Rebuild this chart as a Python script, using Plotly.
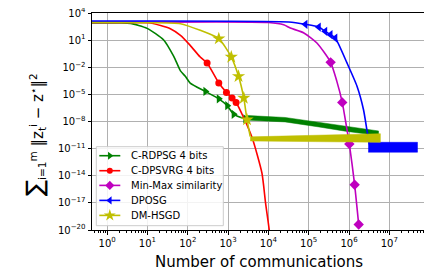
import plotly.graph_objects as go

# ---------------- data ----------------
# C-RDPSG 4 bits (green)
rdpsg_x = [0.4, 2.0, 3.8, 9.8, 25, 45, 66, 87, 115, 275, 590, 955, 1380, 2690]
rdpsg_y = [794, 794, 708, 200, 11.2, 0.16, 4e-3, 1e-3, 1.8e-4, 2.1e-5, 3.2e-6, 5.6e-7, 6.3e-8, 2.0e-8]
rdpsg_mx = [275, 590, 955, 1380, 2690]
rdpsg_my = [2.1e-5, 3.2e-6, 5.6e-7, 6.3e-8, 2.0e-8]
rdpsg_band_x = [2690, 3240, 2.6e4, 1.8e5, 8.1e5, 3.1e6, 5.4e6]
rdpsg_band_hi = [4.0e-8, 4.5e-8, 2.8e-8, 8.0e-9, 2.7e-9, 1.2e-9, 9.0e-10]
rdpsg_band_lo = [1.2e-8, 1.4e-8, 9.0e-9, 2.5e-9, 8.5e-10, 3.8e-10, 2.8e-10]

# C-DPSVRG 4 bits (red)
dpsvrg_x = [0.4, 3.2, 11.7, 37, 66, 115, 204, 302, 589, 912, 1259, 1585, 2510, 3980, 6920, 8510, 1.05e4, 1.1e4]
dpsvrg_y = [891, 891, 794, 182, 33, 2.6, 0.135, 0.0295, 1.8e-4, 1.66e-5, 4e-6, 1.26e-6, 2e-8, 1.5e-10, 2e-14, 1e-17, 1e-20, 1e-21]
dpsvrg_mx = [302, 589, 912, 1259, 1585]
dpsvrg_my = [0.0295, 1.8e-4, 1.66e-5, 4e-6, 1.26e-6]

# Min-Max similarity (magenta)
minmax_x = [0.4, 1e4, 2.4e4, 3.5e4, 7.6e4, 1.6e5, 3.5e5, 5e5, 6.8e5, 8.1e5, 1.02e6, 1.38e6, 1.74e6]
minmax_y = [891, 891, 501, 219, 62, 4.8, 0.035, 2.75e-4, 1.3e-6, 1.6e-8, 3.2e-11, 1e-15, 4e-20]
minmax_mx = [3.5e5, 6.8e5, 1.02e6, 1.38e6, 1.74e6]
minmax_my = [0.035, 1.3e-6, 3.2e-11, 1e-15, 4e-20]

# DPOSG (blue)
dposg_x = [0.4, 3.2e4, 8.3e4, 1.78e5, 2.57e5, 3.47e5, 4.57e5, 8.9e5, 1.58e6, 2.29e6, 2.82e6, 3.2e6]
dposg_y = [1259, 1000, 560, 282, 93, 40, 17, 0.03, 7.9e-5, 2e-7, 7.9e-10, 3e-11]
dposg_mx = [8.3e4, 1.78e5, 2.57e5, 3.47e5, 4.57e5]
dposg_my = [560, 282, 93, 40, 17]
dposg_band_x = [3.0e6, 1e7, 5.0e7]
dposg_band_hi = [5.0e-11, 5.0e-11, 5.0e-11]
dposg_band_lo = [4.0e-12, 4.0e-12, 4.0e-12]

# DM-HSGD (yellow)
dmhsgd_x = [0.4, 10, 66, 204, 589, 1202, 1820, 2455, 2950, 3550]
dmhsgd_y = [891, 851, 661, 120, 14.5, 0.135, 1e-3, 4e-6, 1.6e-8, 2.2e-10]
dmhsgd_mx = [589, 1202, 1820, 2455, 2950]
dmhsgd_my = [14.5, 0.135, 1e-3, 4e-6, 1.6e-8]
dmhsgd_band_x = [3550, 2.1e5, 6.0e6]
dmhsgd_band_hi = [2.0e-10, 3.2e-10, 4.5e-10]
dmhsgd_band_lo = [7.0e-11, 6.0e-11, 5.0e-11]

names = ["C-RDPSG 4 bits", "C-DPSVRG 4 bits", "Min-Max similarity", "DPOSG", "DM-HSGD"]
colors = ["#008000", "#ff0000", "#bf00bf", "#0000ff", "#bfbf00"]
symbols = ["triangle-right", "circle", "diamond", "triangle-left", "star"]
msizes = [8, 7, 8, 8, 10]

x_tickvals = [1, 10, 100, 1e3, 1e4, 1e5, 1e6, 1e7]
x_ticktext = ["10<sup>%d</sup>" % k for k in range(0, 8)]
y_tickvals = [10.0 ** k for k in range(4, -21, -3)]
y_ticktext = ["10<sup>%s</sup>" % (str(k) if k >= 0 else "\u2212" + str(-k)) for k in range(4, -21, -3)]
x_minor = [m * 10.0 ** k for k in range(-1, 8) for m in range(2, 10)]

x_title = "Number of communications"
y_title = ("<span style='font-size:24px'>\u2211</span><sub>i=1</sub><sup>m</sup> "
           "\u2016z<sub>t</sub><sup>i</sup> \u2212 z<sup>\u22c6</sup>\u2016<sup>2</sup>")

series = [
    (rdpsg_x, rdpsg_y, rdpsg_mx, rdpsg_my, (rdpsg_band_x, rdpsg_band_hi, rdpsg_band_lo)),
    (dpsvrg_x, dpsvrg_y, dpsvrg_mx, dpsvrg_my, None),
    (minmax_x, minmax_y, minmax_mx, minmax_my, None),
    (dposg_x, dposg_y, dposg_mx, dposg_my, (dposg_band_x, dposg_band_hi, dposg_band_lo)),
    (dmhsgd_x, dmhsgd_y, dmhsgd_mx, dmhsgd_my, (dmhsgd_band_x, dmhsgd_band_hi, dmhsgd_band_lo)),
]

fig = go.Figure()
for i, (xs, ys, mx, my, band) in enumerate(series):
    c = colors[i]
    fig.add_trace(go.Scatter(x=xs, y=ys, mode="lines", showlegend=False,
                             line=dict(color=c, width=1.6, shape="spline", smoothing=0.6)))
    if band is not None:
        bx, bhi, blo = band
        fig.add_trace(go.Scatter(x=bx + bx[::-1], y=bhi + blo[::-1], mode="lines",
                                 fill="toself", fillcolor=c, showlegend=False,
                                 line=dict(color=c, width=0.5)))
    fig.add_trace(go.Scatter(x=mx, y=my, mode="markers", showlegend=False,
                             marker=dict(symbol=symbols[i], size=msizes[i], color=c,
                                         line=dict(width=0))))

# ---------- legend drawn in an overlay frame measured in pixels of the plot area ----------
PW, PH = 334.0, 217.0
box_x0, box_x1, box_y0, box_y1 = 4.3, 131.3, 133.7, 212.7
item_y = [142.7, 157.7, 172.4, 187.4, 202.4]
fig.add_trace(go.Scatter(x=[box_x0, box_x1, box_x1, box_x0, box_x0],
                         y=[box_y0, box_y0, box_y1, box_y1, box_y0],
                         xaxis="x2", yaxis="y2", mode="lines", fill="toself",
                         fillcolor="rgba(255,255,255,0.85)", line=dict(color="#cccccc", width=1),
                         showlegend=False, hoverinfo="skip"))
for i in range(5):
    fig.add_trace(go.Scatter(x=[7.3, 28.3], y=[item_y[i], item_y[i]], xaxis="x2", yaxis="y2",
                             mode="lines", line=dict(color=colors[i], width=1.6),
                             showlegend=False, hoverinfo="skip"))
    fig.add_trace(go.Scatter(x=[17.8], y=[item_y[i]], xaxis="x2", yaxis="y2", mode="markers",
                             marker=dict(symbol=symbols[i], size=msizes[i] - 1, color=colors[i],
                                         line=dict(width=0)),
                             showlegend=False, hoverinfo="skip"))
    fig.add_annotation(x=36.6, y=item_y[i], xref="x2", yref="y2", text=names[i],
                       showarrow=False, xanchor="left", yanchor="middle",
                       font=dict(family="DejaVu Sans", size=10, color="black"))

# axis titles placed at the reference positions
fig.add_annotation(x=0.5, y=-0.147, xref="paper", yref="paper", text=x_title,
                   showarrow=False, xanchor="center", yanchor="middle",
                   font=dict(family="DejaVu Sans", size=15, color="black"))
fig.add_annotation(x=-0.172, y=0.44, xref="paper", yref="paper", text=y_title,
                   showarrow=False, xanchor="center", yanchor="middle", textangle=-90,
                   font=dict(family="DejaVu Sans", size=15, color="black"))

axis_common = dict(showline=True, mirror=True, linecolor="black", linewidth=1,
                   ticks="outside", ticklen=3.5, tickwidth=0.8, tickcolor="black",
                   showgrid=True, gridcolor="#b0b0b0", gridwidth=0.8, zeroline=False,
                   automargin=False, ticklabeloverflow="allow",
                   tickfont=dict(family="DejaVu Sans", size=10, color="black"))

# the page body keeps an 8px margin, so the figure is drawn 8px smaller and offset
fig.update_layout(
    width=424, height=269,
    margin=dict(l=84, r=6, t=5, b=47, pad=0, autoexpand=False),
    paper_bgcolor="white", plot_bgcolor="white",
    font=dict(family="DejaVu Sans", color="black"),
    showlegend=False,
    xaxis=dict(type="log", range=[-0.375, 7.91], tickvals=x_tickvals, ticktext=x_ticktext,
               minor=dict(tickvals=x_minor, ticks="outside", ticklen=2, tickcolor="black", showgrid=False),
               **axis_common),
    yaxis=dict(type="log", range=[-20, 4], tickvals=y_tickvals, ticktext=y_ticktext,
               **axis_common),
    xaxis2=dict(overlaying="x", range=[0, PW], visible=False, fixedrange=True),
    yaxis2=dict(overlaying="y", range=[PH, 0], visible=False, fixedrange=True),
)

fig.write_html("out.html")
